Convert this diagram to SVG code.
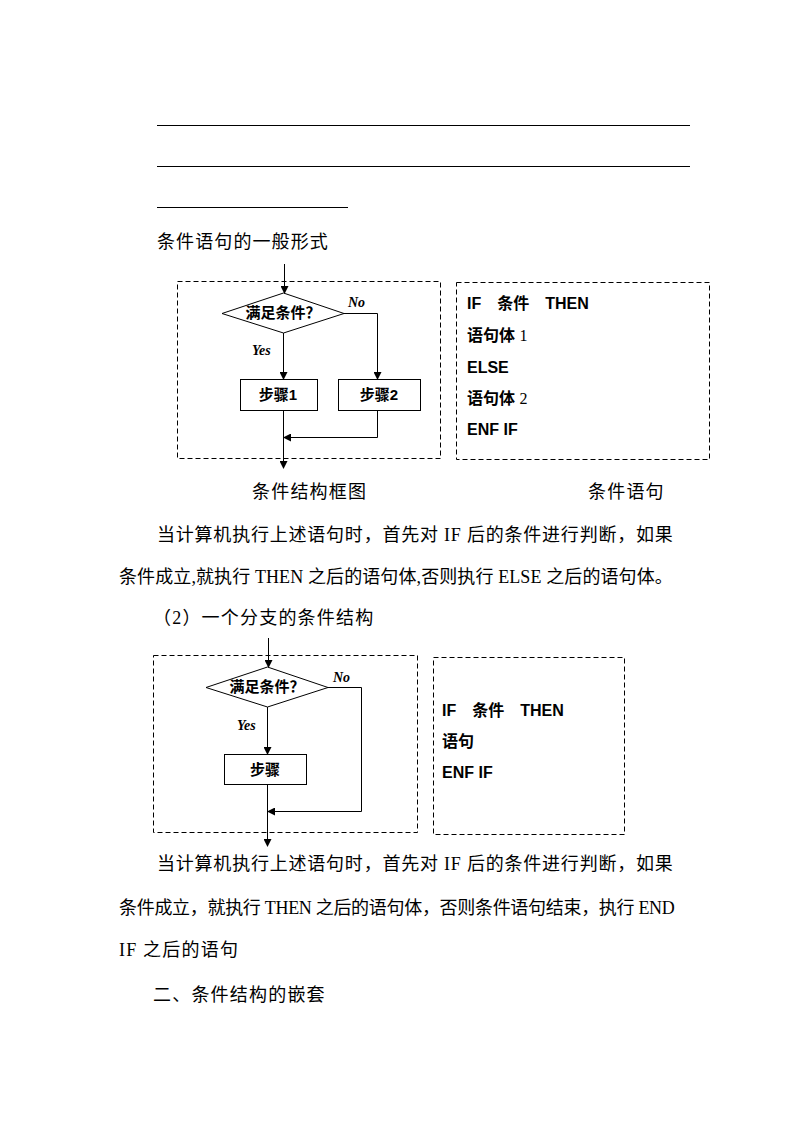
<svg xmlns="http://www.w3.org/2000/svg" width="794" height="1123" viewBox="0 0 794 1123">
<style>
.body{font-family:"Liberation Serif","Noto Sans CJK SC",serif;font-size:18px;fill:#000;letter-spacing:1.2px}
.box{fill:none;stroke:#000;stroke-width:1;stroke-dasharray:5,3}
.node{fill:#fff;stroke:#000;stroke-width:1}
.lbl{font-family:"Liberation Sans","Noto Sans CJK SC",sans-serif;font-size:15px;font-weight:bold;fill:#000;text-anchor:middle}
.yn{font-family:"Liberation Serif",serif;font-style:italic;font-weight:bold;font-size:14px;fill:#000}
.code{font-family:"Liberation Sans","Noto Sans CJK SC",sans-serif;font-size:16px;font-weight:bold;fill:#000}
.num{font-family:"Liberation Serif",serif;font-weight:normal}
.conn line,.conn polyline{fill:none;stroke:#000;stroke-width:1}
.rule{stroke:#000;stroke-width:1}
</style>
<defs>
<marker id="arr" markerWidth="8" markerHeight="8" refX="7" refY="4" orient="auto" markerUnits="userSpaceOnUse">
<path d="M0,0 L8,4 L0,8 Z" fill="#000"/>
</marker>
</defs>
<rect width="794" height="1123" fill="#fff"/>

<g id="rules">
<line class="rule" x1="157" y1="125.5" x2="690" y2="125.5"/>
<line class="rule" x1="157" y1="166.5" x2="690" y2="166.5"/>
<line class="rule" x1="157" y1="207.5" x2="348" y2="207.5"/>
</g>

<g id="texts">
<text class="body" x="157" y="248" textLength="172">条件语句的一般形式</text>
<text class="body" x="252" y="498">条件结构框图</text>
<text class="body" x="588" y="498">条件语句</text>
<text class="body" x="157" y="541" textLength="517" lengthAdjust="spacing">当计算机执行上述语句时，首先对 IF 后的条件进行判断，如果</text>
<text class="body" x="119" y="583" textLength="555" lengthAdjust="spacing">条件成立,就执行 THEN 之后的语句体,否则执行 ELSE 之后的语句体。</text>
<text class="body" x="153" y="624">（2）一个分支的条件结构</text>
<text class="body" x="157" y="870" textLength="517" lengthAdjust="spacing">当计算机执行上述语句时，首先对 IF 后的条件进行判断，如果</text>
<text class="body" x="119" y="914" textLength="557" lengthAdjust="spacing">条件成立，就执行 THEN 之后的语句体，否则条件语句结束，执行 END</text>
<text class="body" x="119" y="956">IF 之后的语句</text>
<text class="body" x="153" y="1001">二、条件结构的嵌套</text>
</g>

<g id="frame1"><rect class="box" x="177.5" y="281.5" width="263" height="177"/></g>
<g id="frame2"><rect class="box" x="456.5" y="282.5" width="253" height="177"/></g>
<g id="frame3"><rect class="box" x="153.5" y="655.5" width="264" height="177"/></g>
<g id="frame4"><rect class="box" x="433.5" y="657.5" width="191" height="177"/></g>

<g id="cond1">
<polygon class="node" points="222,313.5 283.5,293 344,313.5 283.5,333"/>
<text class="lbl" x="283" y="318">满足条件？</text>
</g>
<g id="step1">
<rect class="node" x="240.5" y="379.5" width="77" height="31"/>
<text class="lbl" x="278" y="400">步骤1</text>
</g>
<g id="step2">
<rect class="node" x="338.5" y="379.5" width="82" height="31"/>
<text class="lbl" x="379" y="400">步骤2</text>
</g>
<g id="code1">
<text class="code" x="467" y="309">IF　条件　THEN</text>
<text class="code" x="467" y="341">语句体 <tspan class="num">1</tspan></text>
<text class="code" x="467" y="373">ELSE</text>
<text class="code" x="467" y="404">语句体 <tspan class="num">2</tspan></text>
<text class="code" x="467" y="435">ENF IF</text>
</g>

<g id="cond2">
<polygon class="node" points="206,687.5 267.5,667 328,687.5 267.5,707"/>
<text class="lbl" x="267" y="692">满足条件？</text>
</g>
<g id="step3">
<rect class="node" x="224.5" y="754.5" width="82" height="30"/>
<text class="lbl" x="265" y="775">步骤</text>
</g>
<g id="code2">
<text class="code" x="442" y="716">IF　条件　THEN</text>
<text class="code" x="442" y="747">语句</text>
<text class="code" x="442" y="778">ENF IF</text>
</g>

<g id="labels">
<text class="yn" x="348" y="307">No</text>
<text class="yn" x="252" y="355">Yes</text>
<text class="yn" x="333" y="682">No</text>
<text class="yn" x="237" y="730">Yes</text>
</g>

<g id="connectors" class="conn">
<line x1="284.5" y1="264" x2="284.5" y2="293" marker-end="url(#arr)"/>
<line x1="283.5" y1="333" x2="283.5" y2="379" marker-end="url(#arr)"/>
<polyline points="344,313.5 377.5,313.5 377.5,379" marker-end="url(#arr)"/>
<line x1="283.5" y1="410" x2="283.5" y2="468" marker-end="url(#arr)"/>
<polyline points="377.5,410 377.5,437.5 284,437.5" marker-end="url(#arr)"/>
<line x1="268.5" y1="638" x2="268.5" y2="667" marker-end="url(#arr)"/>
<line x1="267.5" y1="707" x2="267.5" y2="754" marker-end="url(#arr)"/>
<polyline points="328,687.5 361.5,687.5 361.5,811.5 268,811.5" marker-end="url(#arr)"/>
<line x1="267.5" y1="784" x2="267.5" y2="846" marker-end="url(#arr)"/>
</g>
</svg>
